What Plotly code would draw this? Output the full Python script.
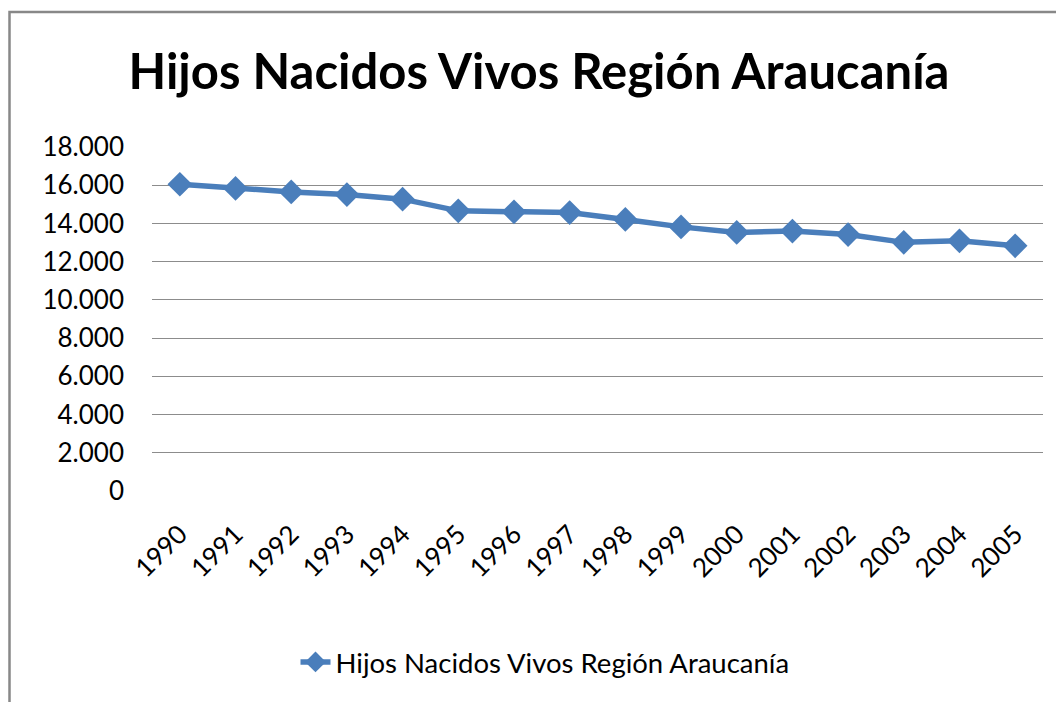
import plotly.graph_objects as go

years = ["1990", "1991", "1992", "1993", "1994", "1995", "1996", "1997",
         "1998", "1999", "2000", "2001", "2002", "2003", "2004", "2005"]
births = [16050, 15830, 15650, 15510, 15270, 14660, 14610, 14570,
          14210, 13820, 13530, 13600, 13420, 13010, 13090, 12830]
series_name = "Hijos Nacidos Vivos Región Araucanía"
title_text = "Hijos Nacidos Vivos Región Araucanía"

W, H = 1064, 702
OFF = 8  # page body margin
# target plot area in screen pixels
PX0, PX1, PY0, PY1 = 152, 1043, 147, 491
L = PX0 - OFF
T = PY0 - OFF
R = W - (PX1 - OFF)
B = H - (PY1 - OFF)
pw, ph = PX1 - PX0, PY1 - PY0

def px_x(x):
    return (x - PX0) / pw

def px_y(y):
    return (PY1 - y) / ph

fig = go.Figure()
fig.add_trace(go.Scatter(
    x=years, y=births, name=series_name, mode="lines+markers",
    line=dict(color="#4A7EBB", width=5.5),
    marker=dict(symbol="diamond", size=19, color="#4A7EBB"),
))

fig.update_layout(
    width=W, height=H,
    margin=dict(l=L, r=R, t=T, b=B, autoexpand=False),
    paper_bgcolor="white", plot_bgcolor="white",
    separators=",.",
    font=dict(family="Lato, 'Open Sans', sans-serif", color="#000000"),
    title=dict(text=title_text, x=(539 - OFF) / W, xanchor="center", xref="container",
               y=1 - (71.5 - OFF) / H, yanchor="middle", yref="container",
               font=dict(size=49, family="Lato", weight="bold", color="#000000")),
    showlegend=True,
    legend=dict(orientation="h", x=px_x(545), xanchor="center",
                y=px_y(662), yanchor="middle",
                font=dict(size=27.5, color="#000000"), bgcolor="rgba(0,0,0,0)"),
    xaxis=dict(type="category", range=[-0.5, len(years) - 0.5], tickangle=-45,
               tickfont=dict(size=26),
               showgrid=False, showline=False, ticks="", zeroline=False,
               ticklabelstandoff=22, automargin=False),
    yaxis=dict(range=[0, 18000], dtick=2000, tickformat=",d",
               tickfont=dict(size=26), showgrid=True, gridcolor="#8C8C8C", gridwidth=1.2,
               zeroline=False, showline=False, ticks="", ticklabelstandoff=27,
               automargin=False),
    shapes=[dict(type="rect", xref="paper", yref="paper",
                 x0=px_x(9.5), x1=px_x(1100), y0=px_y(760), y1=px_y(12),
                 line=dict(color="#888888", width=2.5), fillcolor="rgba(0,0,0,0)")],
)

fig.write_html("out.html")
